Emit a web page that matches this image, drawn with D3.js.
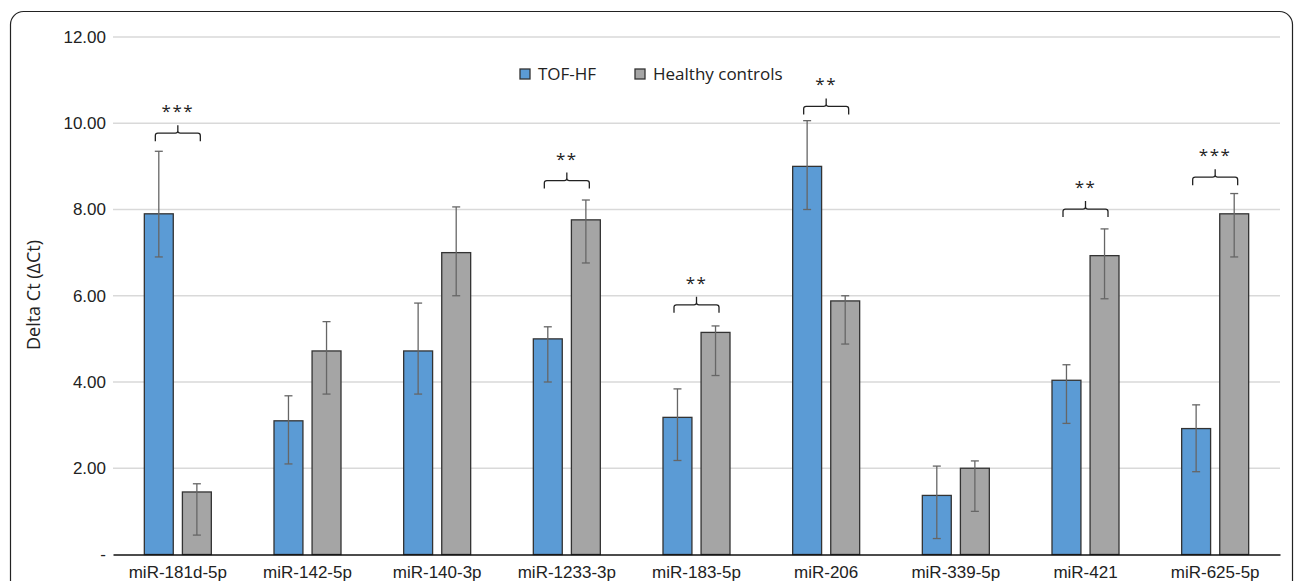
<!DOCTYPE html>
<html>
<head>
<meta charset="utf-8">
<script src="https://cdn.jsdelivr.net/npm/d3@7"></script>
<style>
  html, body { margin: 0; padding: 0; background: #fff; }
  svg { display: block; font-family: "Open Sans", "Liberation Sans", sans-serif; }
</style>
</head>
<body>
<svg id="chart" width="1295" height="581"></svg>
<script>
const categories = ["miR-181d-5p", "miR-142-5p", "miR-140-3p", "miR-1233-3p", "miR-183-5p", "miR-206", "miR-339-5p", "miR-421", "miR-625-5p"];
const seriesNames = ["TOF-HF", "Healthy controls"];
const tofValues = [7.90, 3.10, 4.72, 5.00, 3.18, 9.00, 1.37, 4.04, 2.92];
const tofUpper  = [9.35, 3.68, 5.83, 5.28, 3.84, 10.06, 2.05, 4.40, 3.47];
const tofLower  = [6.90, 2.10, 3.72, 4.00, 2.18, 8.00, 0.37, 3.04, 1.92];
const hcValues  = [1.45, 4.72, 7.00, 7.76, 5.15, 5.88, 2.00, 6.93, 7.90];
const hcUpper   = [1.64, 5.40, 8.06, 8.22, 5.30, 6.00, 2.17, 7.55, 8.37];
const hcLower   = [0.45, 3.72, 6.00, 6.76, 4.15, 4.88, 1.00, 5.93, 6.90];
const yTicks = [0, 2, 4, 6, 8, 10, 12];
const yTickLabels = ["-", "2.00", "4.00", "6.00", "8.00", "10.00", "12.00"];
const sigCategories = ["miR-181d-5p", "miR-1233-3p", "miR-183-5p", "miR-206", "miR-421", "miR-625-5p"];
const sigLabels = ["***", "**", "**", "**", "**", "***"];
const sigLevels = [9.77, 8.67, 5.79, 10.39, 8.01, 8.75];
const yLabel = "Delta Ct (\u0394Ct)";

const colors = ["#5B9BD5", "#A5A5A5"];
const svg = d3.select("#chart");

// outer rounded frame
svg.append("rect").attr("x", 10.5).attr("y", 11.5).attr("width", 1282).attr("height", 600)
  .attr("rx", 13).attr("fill", "none").attr("stroke", "#222").attr("stroke-width", 1.2);

const plotLeft = 113, plotRight = 1280, plotTop = 37, plotBottom = 554.5;
const x0 = d3.scaleBand().domain(categories).range([plotLeft, plotRight]).paddingInner(0).paddingOuter(0);
const x1 = d3.scaleBand().domain(seriesNames).range([x0.bandwidth()/2 - 33.5, x0.bandwidth()/2 + 33.5]).paddingInner(0.24).paddingOuter(0);
const y = d3.scaleLinear().domain([0, 12]).range([plotBottom, plotTop]);

// grid
svg.append("g").selectAll("line").data(yTicks.filter(d => d > 0)).join("line")
  .attr("x1", plotLeft).attr("x2", plotRight)
  .attr("y1", d => y(d)).attr("y2", d => y(d))
  .attr("stroke", "#d9d9d9").attr("stroke-width", 1.3);

// y axis labels
const yAxis = d3.axisLeft(y).tickValues(yTicks).tickSize(0).tickPadding(7)
  .tickFormat((d, i) => yTickLabels[i]);
const gy = svg.append("g").attr("transform", `translate(${plotLeft},0)`).call(yAxis);
gy.select(".domain").remove();
gy.selectAll("text").attr("font-size", 17).attr("fill", "#222");

// y title
svg.append("text").attr("transform", "translate(40,295) rotate(-90)")
  .attr("text-anchor", "middle").attr("font-size", 18).attr("fill", "#222").text(yLabel);

// bars
const rows = categories.map((c, i) => ({
  cat: c,
  vals: [
    {s: seriesNames[0], v: tofValues[i], hi: tofUpper[i], lo: tofLower[i]},
    {s: seriesNames[1], v: hcValues[i], hi: hcUpper[i], lo: hcLower[i]}
  ]
}));

const groups = svg.append("g").selectAll("g").data(rows).join("g")
  .attr("transform", d => `translate(${x0(d.cat)},0)`);

groups.selectAll("rect").data(d => d.vals).join("rect")
  .attr("x", d => x1(d.s)).attr("width", x1.bandwidth())
  .attr("y", d => y(d.v)).attr("height", d => y(0) - y(d.v))
  .attr("fill", (d, i) => colors[i]).attr("stroke", "#333").attr("stroke-width", 1.3);

// error bars
const eb = groups.selectAll("g.eb").data(d => d.vals).join("g").attr("class", "eb")
  .attr("transform", d => `translate(${x1(d.s) + x1.bandwidth()/2},0)`);
eb.append("line").attr("x1", 0).attr("x2", 0).attr("y1", d => y(d.hi)).attr("y2", d => y(d.lo))
  .attr("stroke", "#666").attr("stroke-width", 1.3);
eb.append("line").attr("x1", -4).attr("x2", 4).attr("y1", d => y(d.hi)).attr("y2", d => y(d.hi))
  .attr("stroke", "#666").attr("stroke-width", 1.3);
eb.append("line").attr("x1", -4).attr("x2", 4).attr("y1", d => y(d.lo)).attr("y2", d => y(d.lo))
  .attr("stroke", "#666").attr("stroke-width", 1.3);

// x axis
const xAxis = d3.axisBottom(x0).tickSize(0).tickPadding(11);
const gx = svg.append("g").attr("transform", `translate(0,${plotBottom})`).call(xAxis);
gx.select(".domain").attr("stroke", "#111").attr("stroke-width", 1.3);
gx.selectAll("text").attr("font-size", 17).attr("fill", "#222");

// significance brackets
const sig = svg.append("g").selectAll("g").data(sigCategories.map((c, i) => ({c, label: sigLabels[i], lvl: sigLevels[i]})))
  .join("g")
  .attr("transform", d => `translate(${x0(d.c) + x0.bandwidth()/2},${y(d.lvl)})`);
sig.append("path")
  .attr("d", "M-22.5,8 L-22.5,2.5 Q-22.5,0 -20,0 L-2.5,0 Q0,0 0,-2.5 L0,-8 M0,-2.5 Q0,0 2.5,0 L20,0 Q22.5,0 22.5,2.5 L22.5,8")
  .attr("fill", "none").attr("stroke", "#222").attr("stroke-width", 1.3);
sig.append("text").attr("y", -16).attr("text-anchor", "middle").attr("font-size", 17)
  .attr("fill", "#222").attr("letter-spacing", "1.5px").text(d => d.label);

// legend
const legend = svg.append("g").attr("transform", "translate(520,69)");
const legendX = [0, 115];
seriesNames.forEach((s, i) => {
  const g = legend.append("g").attr("transform", `translate(${legendX[i]},0)`);
  g.append("rect").attr("width", 10).attr("height", 10).attr("fill", colors[i])
    .attr("stroke", "#333").attr("stroke-width", 1.3);
  g.append("text").attr("x", 18).attr("y", 5).attr("dy", "0.35em").attr("font-size", 17)
    .attr("fill", "#222").text(s);
});
</script>
</body>
</html>
